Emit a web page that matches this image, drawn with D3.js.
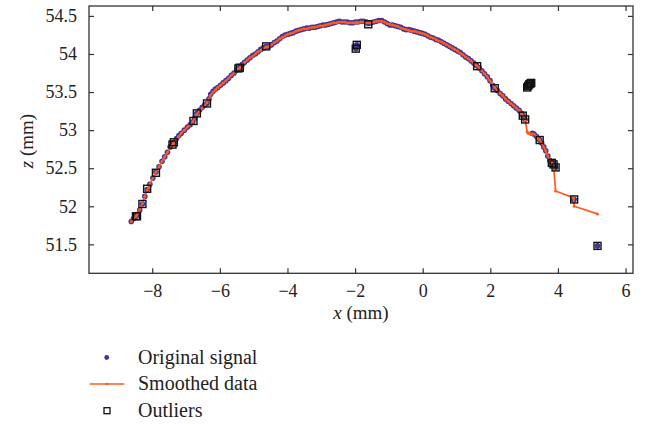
<!DOCTYPE html>
<html><head><meta charset="utf-8">
<script src="https://cdn.jsdelivr.net/npm/d3@7"></script>
<style>body{margin:0;background:#fff}svg{display:block}text{font-family:"Liberation Serif","DejaVu Serif",serif;fill:#222}</style>
</head><body><svg id="c" width="653" height="424"></svg>
<script>
// Original signal (x, z) and smoothed z at the same x positions
const signalX = [-8.62,-8.55,-8.48,-8.44,-8.37,-8.29,-8.22,-8.15,-8.07,-7.98,-7.89,-7.80,-7.71,-7.63,-7.55,-7.47,-7.39,-7.36,-7.28,-7.21,-7.14,-7.05,-6.96,-6.88,-6.80,-6.74,-6.68,-6.60,-6.52,-6.45,-6.38,-6.32,-6.27,-6.20,-6.13,-6.06,-5.98,-5.90,-5.82,-5.74,-5.66,-5.58,-5.50,-5.45,-5.41,-5.34,-5.27,-5.19,-5.11,-5.03,-4.95,-4.87,-4.79,-4.71,-4.63,-4.55,-4.47,-4.39,-4.31,-4.23,-4.15,-4.07,-3.99,-3.91,-3.83,-3.75,-3.67,-3.59,-3.51,-3.43,-3.35,-3.27,-3.19,-3.11,-3.03,-2.95,-2.87,-2.79,-2.71,-2.63,-2.55,-2.47,-2.39,-2.31,-2.23,-2.15,-2.07,-1.99,-1.98,-1.95,-1.91,-1.83,-1.75,-1.67,-1.61,-1.53,-1.45,-1.37,-1.29,-1.21,-1.13,-1.05,-0.97,-0.89,-0.81,-0.73,-0.65,-0.57,-0.49,-0.41,-0.33,-0.25,-0.17,-0.09,-0.01,0.07,0.15,0.23,0.31,0.39,0.47,0.55,0.63,0.71,0.79,0.87,0.95,1.03,1.11,1.19,1.27,1.35,1.43,1.51,1.59,1.67,1.75,1.83,1.91,1.99,2.07,2.13,2.21,2.29,2.37,2.45,2.53,2.61,2.69,2.77,2.85,2.92,2.96,3.03,3.09,3.12,3.15,3.18,3.21,3.24,3.29,3.36,3.42,3.46,3.52,3.58,3.64,3.70,3.76,3.82,3.87,3.93,4.46,4.48,5.17];
const signalZ = [51.80,51.84,51.87,51.89,51.95,52.03,52.13,52.22,52.29,52.37,52.45,52.52,52.59,52.65,52.71,52.78,52.82,52.84,52.89,52.93,52.96,53.00,53.04,53.07,53.11,53.16,53.22,53.26,53.30,53.33,53.35,53.41,53.47,53.51,53.54,53.56,53.59,53.62,53.65,53.68,53.72,53.75,53.79,53.81,53.82,53.86,53.89,53.92,53.95,53.98,54.00,54.03,54.06,54.08,54.10,54.10,54.12,54.15,54.17,54.20,54.23,54.25,54.26,54.27,54.28,54.30,54.31,54.32,54.33,54.34,54.34,54.35,54.35,54.36,54.37,54.38,54.38,54.39,54.40,54.41,54.42,54.43,54.42,54.42,54.42,54.41,54.41,54.42,54.07,54.12,54.42,54.43,54.43,54.42,54.40,54.41,54.42,54.43,54.44,54.44,54.42,54.40,54.38,54.38,54.37,54.36,54.35,54.33,54.32,54.32,54.31,54.30,54.29,54.28,54.27,54.26,54.24,54.22,54.21,54.19,54.18,54.16,54.14,54.12,54.10,54.08,54.06,54.04,54.02,53.99,53.96,53.94,53.91,53.88,53.85,53.82,53.78,53.74,53.70,53.65,53.59,53.55,53.52,53.48,53.45,53.41,53.38,53.35,53.32,53.29,53.26,53.22,53.19,53.14,53.56,53.58,53.60,53.61,53.62,52.96,52.95,52.92,52.89,52.87,52.83,52.78,52.73,52.66,52.60,52.57,52.55,52.51,52.09,52.09,51.48];
const smoothZ = [51.80,51.84,51.87,51.90,51.96,52.04,52.13,52.21,52.29,52.37,52.45,52.52,52.59,52.65,52.71,52.77,52.81,52.83,52.88,52.92,52.96,53.00,53.04,53.07,53.11,53.16,53.21,53.25,53.29,53.33,53.36,53.41,53.46,53.50,53.53,53.56,53.59,53.62,53.65,53.68,53.72,53.75,53.79,53.81,53.82,53.86,53.89,53.92,53.95,53.97,54.00,54.03,54.05,54.08,54.09,54.10,54.12,54.15,54.17,54.20,54.22,54.24,54.26,54.27,54.28,54.30,54.31,54.32,54.33,54.33,54.34,54.35,54.35,54.36,54.37,54.37,54.38,54.39,54.40,54.41,54.41,54.42,54.42,54.42,54.41,54.41,54.41,54.41,54.41,54.41,54.41,54.42,54.42,54.41,54.41,54.41,54.42,54.43,54.43,54.43,54.42,54.40,54.39,54.38,54.37,54.36,54.34,54.33,54.32,54.31,54.30,54.30,54.29,54.28,54.27,54.26,54.24,54.22,54.21,54.19,54.17,54.16,54.14,54.12,54.10,54.08,54.06,54.04,54.01,53.99,53.96,53.94,53.91,53.88,53.85,53.82,53.78,53.74,53.70,53.65,53.60,53.56,53.52,53.48,53.45,53.41,53.38,53.35,53.32,53.29,53.26,53.22,53.19,53.13,52.98,52.96,52.96,52.95,52.95,52.95,52.95,52.92,52.89,52.87,52.83,52.78,52.73,52.66,52.60,52.57,52.54,52.20,52.11,52.00,51.90];
// Points flagged as outliers
const outlierX = [-8.48,-8.45,-8.29,-8.15,-7.89,-7.40,-7.36,-6.78,-6.68,-6.38,-5.45,-5.41,-4.63,-1.98,-1.95,-1.61,1.61,2.13,2.96,3.03,3.09,3.12,3.15,3.18,3.21,3.46,3.82,3.87,3.93,4.48,5.17];
const outlierZ = [51.87,51.87,52.03,52.23,52.44,52.81,52.84,53.12,53.22,53.35,53.81,53.82,54.10,54.07,54.12,54.39,53.84,53.55,53.19,53.14,53.56,53.58,53.60,53.61,53.62,52.87,52.57,52.55,52.51,52.09,51.48];
const xTicks = [-8,-6,-4,-2,0,2,4,6];
const zTicks = [51.5,52,52.5,53,53.5,54,54.5];
const legendLabels = ["Original signal","Smoothed data","Outliers"];

const BLUE = "#3f359c", ORANGE = "#ff5b1f", AX = "#333";
const svg = d3.select("#c");
const L = 89, R = 633, T = 6, B = 273.3;
const x = d3.scaleLinear().domain([-9.87, 6.22]).range([L, R]);
const y = d3.scaleLinear().domain([51.12, 54.63]).range([B, T]);

const plot = svg.append("g");
// signal dots
plot.selectAll("circle.sig").data(signalX.map((v,i)=>[v,signalZ[i]])).join("circle")
  .attr("class","sig").attr("cx",d=>x(d[0])).attr("cy",d=>y(d[1])).attr("r",2.8).attr("fill",BLUE);
// smoothed line
const sm = signalX.map((v,i)=>[v,smoothZ[i]]);
plot.append("path").datum(sm).attr("d",d3.line().x(d=>x(d[0])).y(d=>y(d[1])))
  .attr("fill","none").attr("stroke",ORANGE).attr("stroke-width",1.7).attr("stroke-linejoin","round");
plot.selectAll("circle.sm").data(sm).join("circle")
  .attr("class","sm").attr("cx",d=>x(d[0])).attr("cy",d=>y(d[1])).attr("r",1.5).attr("fill",ORANGE);
// outliers
const s = 7;
plot.selectAll("rect.out").data(outlierX.map((v,i)=>[v,outlierZ[i]])).join("rect")
  .attr("class","out").attr("x",d=>x(d[0])-s/2).attr("y",d=>y(d[1])-s/2).attr("width",s).attr("height",s)
  .attr("fill","none").attr("stroke","#111").attr("stroke-width",1.4);

// axes
const fs = "18px";
const gb = svg.append("g").attr("transform",`translate(0,${B})`)
  .call(d3.axisBottom(x).tickValues(xTicks).tickSizeInner(-5).tickSizeOuter(0).tickPadding(11));
const gt = svg.append("g").attr("transform",`translate(0,${T})`)
  .call(d3.axisTop(x).tickValues(xTicks).tickSizeInner(-5).tickSizeOuter(0).tickFormat(""));
const gl = svg.append("g").attr("transform",`translate(${L},0)`)
  .call(d3.axisLeft(y).tickValues(zTicks).tickSizeInner(-5).tickSizeOuter(0).tickPadding(12).tickFormat(d3.format("")));
const gr = svg.append("g").attr("transform",`translate(${R},0)`)
  .call(d3.axisRight(y).tickValues(zTicks).tickSizeInner(-5).tickSizeOuter(0).tickFormat(""));
[gb,gt,gl,gr].forEach(g=>{
  g.select(".domain").remove();
  g.selectAll(".tick line").attr("stroke",AX).attr("stroke-width",1.2);
  g.selectAll(".tick text").attr("font-family","Liberation Serif").attr("font-size",fs).attr("fill","#222");
});
svg.append("rect").attr("x",L).attr("y",T).attr("width",R-L).attr("height",B-T)
  .attr("fill","none").attr("stroke",AX).attr("stroke-width",1.3);

// axis labels
const xl = svg.append("text").attr("x",361).attr("y",319).attr("text-anchor","middle").attr("font-size","19px");
xl.append("tspan").attr("font-style","italic").text("x");
xl.append("tspan").text(" (mm)");
const yl = svg.append("text").attr("transform","translate(33,141) rotate(-90)").attr("text-anchor","middle").attr("font-size","19px");
yl.append("tspan").attr("font-style","italic").text("z");
yl.append("tspan").text(" (mm)");

// legend
const lg = svg.append("g");
const ly = [357.5, 384, 410.7];
lg.append("circle").attr("cx",106.7).attr("cy",ly[0]).attr("r",2.4).attr("fill",BLUE);
lg.append("line").attr("x1",89.5).attr("x2",124.3).attr("y1",ly[1]).attr("y2",ly[1]).attr("stroke",ORANGE).attr("stroke-width",1.4);
lg.append("circle").attr("cx",107).attr("cy",ly[1]).attr("r",1.3).attr("fill",ORANGE);
lg.append("rect").attr("x",107-3).attr("y",ly[2]-3).attr("width",6).attr("height",6).attr("fill","none").attr("stroke","#111").attr("stroke-width",1.3);
lg.selectAll("text").data(legendLabels).join("text")
  .attr("x",138).attr("y",(d,i)=>ly[i]+6).attr("font-size","20px").text(d=>d);
</script></body></html>
